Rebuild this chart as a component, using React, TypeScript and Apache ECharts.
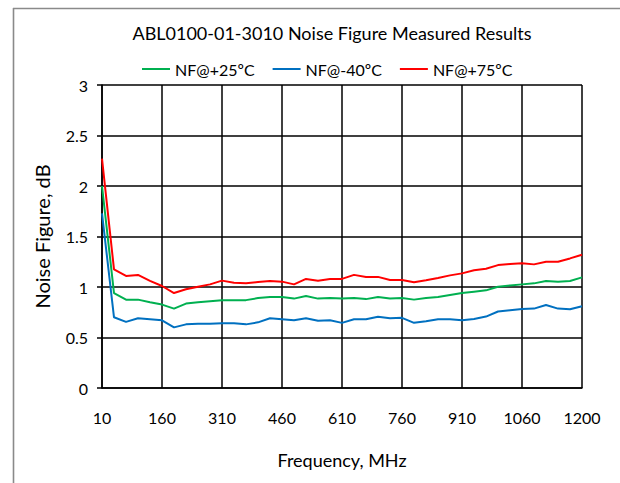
import React, { useEffect, useRef } from "react";
import * as echarts from "echarts";

const TITLE = "ABL0100-01-3010 Noise Figure Measured Results";
const X_NAME = "Frequency, MHz";
const Y_NAME = "Noise Figure, dB";

const frequencies: string[] = [
  "10", "40", "70", "100", "130", "160", "190", "220", "250", "280",
  "310", "340", "370", "400", "430", "460", "490", "520", "550", "580",
  "610", "640", "670", "700", "730", "760", "790", "820", "850", "880",
  "910", "940", "970", "1000", "1030", "1060", "1090", "1120", "1150", "1180",
  "1200",
];

const nf25: number[] = [
  2.0, 0.94, 0.875, 0.875, 0.85, 0.826, 0.786, 0.836, 0.85, 0.86,
  0.87, 0.868, 0.87, 0.89, 0.9, 0.9, 0.885, 0.91, 0.885, 0.89,
  0.885, 0.89, 0.88, 0.9, 0.885, 0.89, 0.875, 0.89, 0.9, 0.92,
  0.94, 0.954, 0.967, 1.003, 1.016, 1.026, 1.036, 1.06, 1.053, 1.06,
  1.095,
];

const nfMinus40: number[] = [
  1.73, 0.7, 0.655, 0.69, 0.68, 0.67, 0.6, 0.63, 0.635, 0.635,
  0.64, 0.64, 0.63, 0.65, 0.69, 0.68, 0.67, 0.69, 0.665, 0.67,
  0.645, 0.68, 0.68, 0.705, 0.69, 0.695, 0.645, 0.66, 0.68, 0.68,
  0.67, 0.684, 0.707, 0.757, 0.77, 0.783, 0.786, 0.822, 0.786, 0.78,
  0.81,
];

const nf75: number[] = [
  2.27, 1.174, 1.11, 1.12, 1.06, 1.01, 0.94, 0.977, 1.003, 1.026,
  1.063, 1.043, 1.036, 1.05, 1.06, 1.053, 1.026, 1.08, 1.063, 1.08,
  1.08, 1.12, 1.1, 1.1, 1.07, 1.07, 1.046, 1.066, 1.09, 1.115,
  1.135, 1.165, 1.18, 1.217, 1.227, 1.234, 1.224, 1.25, 1.25, 1.283,
  1.32,
];

const seriesNames = ["NF@+25ºC", "NF@-40ºC", "NF@+75ºC"];
const seriesColors = ["#00B050", "#0070C0", "#FF0000"];

const FONT = "Lato, 'Open Sans', sans-serif";

export default function App() {
  const ref = useRef<HTMLDivElement>(null);

  useEffect(() => {
    if (!ref.current) return;
    const chart = echarts.init(ref.current, undefined, { renderer: "svg" });
    const values = [nf25, nfMinus40, nf75];
    chart.setOption({
      animation: false,
      backgroundColor: "#ffffff",
      textStyle: { fontFamily: FONT, color: "#000" },
      title: {
        text: TITLE,
        left: 327,
        top: 19,
        textAlign: "center",
        textStyle: { fontFamily: FONT, fontSize: 18, fontWeight: "normal", color: "#000" },
      },
      legend: {
        left: 137,
        top: 56,
        icon: "rect",
        itemWidth: 28,
        itemHeight: 2,
        itemGap: 18,
        textStyle: { fontFamily: FONT, fontSize: 16, color: "#000" },
        data: seriesNames,
      },
      graphic: [
        { type: "line", shape: { x1: 13, y1: 8.5, x2: 620, y2: 8.5 }, style: { stroke: "#8a8a8a", lineWidth: 1.6 } },
        { type: "line", shape: { x1: 13.5, y1: 8, x2: 13.5, y2: 483 }, style: { stroke: "#8a8a8a", lineWidth: 1.6 } },
      ],
      grid: { left: 102, right: 38, top: 85, bottom: 95, containLabel: false },
      xAxis: {
        type: "category",
        data: frequencies,
        boundaryGap: false,
        name: X_NAME,
        nameLocation: "middle",
        nameGap: 63,
        nameTextStyle: { fontFamily: FONT, fontSize: 18, color: "#000" },
        axisLine: { show: true, lineStyle: { color: "#000", width: 1.5 } },
        axisTick: { show: false },
        axisLabel: { interval: 4, margin: 21, fontFamily: FONT, fontSize: 16, color: "#000" },
        splitLine: { show: true, interval: 4, lineStyle: { color: "#000", width: 1.5 } },
      },
      yAxis: {
        type: "value",
        min: 0,
        max: 3,
        interval: 0.5,
        name: Y_NAME,
        nameLocation: "middle",
        nameGap: 50,
        nameRotate: 90,
        nameTextStyle: { fontFamily: FONT, fontSize: 20, color: "#000" },
        axisLine: { show: true, lineStyle: { color: "#000", width: 1.5 } },
        axisTick: { show: true, inside: false, length: 5, lineStyle: { color: "#000", width: 1.5 } },
        axisLabel: { margin: 14, fontFamily: FONT, fontSize: 16, color: "#000" },
        splitLine: { show: true, lineStyle: { color: "#000", width: 1.5 } },
      },
      series: seriesNames.map((name, i) => ({
        name,
        type: "line",
        data: values[i],
        symbol: "none",
        showSymbol: false,
        color: seriesColors[i],
        itemStyle: { color: seriesColors[i] },
        lineStyle: { color: seriesColors[i], width: 2 },
      })),
    });
    return () => chart.dispose();
  }, []);

  return (
    <div
      ref={ref}
      style={{ position: "fixed", left: 0, top: 0, width: 620, height: 483, background: "#fff" }}
    />
  );
}
